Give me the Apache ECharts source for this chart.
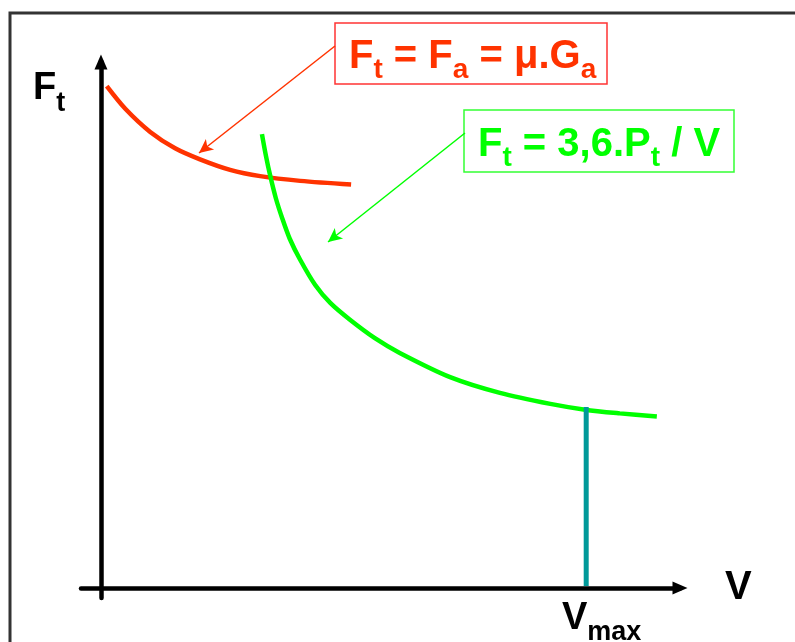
<!DOCTYPE html>
<html>
<head>
<meta charset="utf-8">
<script src="https://cdn.jsdelivr.net/npm/echarts@6/dist/echarts.min.js"></script>
<style>html,body{margin:0;background:#fff}#main{width:795px;height:642px}</style>
</head>
<body>
<div id="main"></div>
<script>
// traction force vs speed: adhesion limit (red) and power hyperbola (green)
var redV   = [1.0, 4.2, 8.5, 12.8, 17.1, 22.3, 27.5, 34.4, 43.2];
var redF   = [95.4, 91.1, 86.7, 83.6, 81.5, 79.5, 78.3, 77.4, 76.7];
var greenV = [27.8, 28.5, 29.2, 30.2, 31.3, 32.6, 34.4, 37.0, 39.6, 43.0, 47.3, 51.6, 60.3, 68.9, 77.6, 83.6, 89.6, 96.0];
var greenF = [86.3, 82.1, 78.5, 74.1, 70.3, 66.4, 62.4, 57.6, 54.2, 51.0, 47.5, 44.7, 40.1, 37.1, 35.0, 33.9, 33.2, 32.6];
var vmaxV = [83.8, 83.8];
var vmaxF = [0.4, 34.4];

var FONT = '"Liberation Sans", Arial, sans-serif';
var RED = '#ff3300', GREEN = '#00ff00', TEAL = '#009999';

function zip(a, b) {
  return a.map(function (v, i) { return [v, b[i]]; });
}

// main glyphs hang from the top of the line, subscripts sit on its bottom
function rich(color, big, small, lh) {
  return {
    m: {fontSize: big, fontWeight: 'bold', fontFamily: FONT, fill: color, lineHeight: lh, verticalAlign: 'top'},
    s: {fontSize: small, fontWeight: 'bold', fontFamily: FONT, fill: color, lineHeight: 4, verticalAlign: 'bottom'}
  };
}

var myChart = echarts.init(document.getElementById('main'));

var axisLine = {
  onZero: true,
  symbol: ['none', 'triangle'],
  symbolSize: [13, 15],
  lineStyle: {color: '#000', width: 4.5}
};

var option = {
  backgroundColor: '#fff',
  animation: false,
  grid: {left: 81, right: 115, top: 62, bottom: 44},
  xAxis: {
    type: 'value', min: -3.45, max: 100,
    axisLine: axisLine, axisTick: {show: false}, axisLabel: {show: false}, splitLine: {show: false}
  },
  yAxis: {
    type: 'value', min: -1.9, max: 100,
    axisLine: axisLine, axisTick: {show: false}, axisLabel: {show: false}, splitLine: {show: false}
  },
  series: [
    {
      type: 'line', data: zip(redV, redF), smooth: 0.3, showSymbol: false,
      lineStyle: {color: RED, width: 4.5},
      markLine: {
        silent: true, symbol: ['none', 'arrow'], symbolSize: [10, 14],
        label: {show: false},
        lineStyle: {color: RED, width: 1.5, type: 'solid'},
        data: [[{x: 335, y: 46}, {x: 199, y: 153}]]
      }
    },
    {
      type: 'line', data: zip(greenV, greenF), smooth: 0.3, showSymbol: false,
      lineStyle: {color: GREEN, width: 4.5},
      markLine: {
        silent: true, symbol: ['none', 'arrow'], symbolSize: [10, 14],
        label: {show: false},
        lineStyle: {color: GREEN, width: 1.5, type: 'solid'},
        data: [[{x: 465, y: 133}, {x: 328, y: 242}]]
      }
    },
    {
      type: 'line', data: zip(vmaxV, vmaxF), showSymbol: false,
      lineStyle: {color: TEAL, width: 5}
    }
  ],
  graphic: [
    {type: 'rect', shape: {x: 10, y: 13, width: 820, height: 700},
     style: {fill: 'none', stroke: '#333', lineWidth: 3}},
    {type: 'rect', shape: {x: 335, y: 23, width: 272, height: 61},
     style: {fill: '#fff', stroke: '#ff3333', lineWidth: 1.5}},
    {type: 'text', x: 349, y: 37,
     style: {text: '{m|F}{s|t}{m| = F}{s|a}{m| = μ.G}{s|a}', rich: rich(RED, 40, 28, 47)}},
    {type: 'rect', shape: {x: 464, y: 110, width: 270, height: 62},
     style: {fill: '#fff', stroke: '#33ff33', lineWidth: 1.5}},
    {type: 'text', x: 478, y: 125,
     style: {text: '{m|F}{s|t}{m| = 3,6.P}{s|t}{m| / V}', rich: rich(GREEN, 40, 28, 47)}},
    {type: 'text', x: 33, y: 70,
     style: {text: '{m|F}{s|t}', rich: rich('#000', 38, 27, 47)}},
    {type: 'text', x: 725, y: 568,
     style: {text: '{m|V}', rich: rich('#000', 40, 28, 44)}},
    {type: 'text', x: 562, y: 600,
     style: {text: '{m|V}{s|max}', rich: rich('#000', 38, 27, 46)}}
  ]
};

myChart.setOption(option);
</script>
</body>
</html>
